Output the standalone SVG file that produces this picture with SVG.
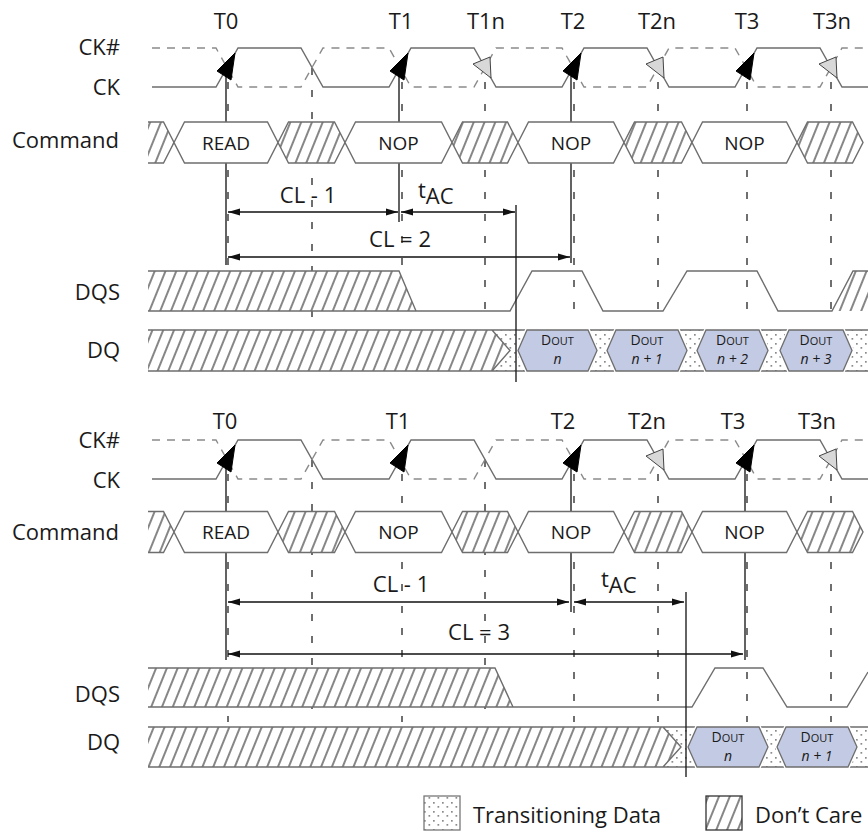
<svg xmlns="http://www.w3.org/2000/svg" width="868" height="832" viewBox="0 0 868 832">
<defs>
<style>
text{font-family:"Open Sans","Noto Sans","DejaVu Sans",sans-serif;fill:#1a1a1a}
.lbl{font-size:22px;text-anchor:end}
.tl{font-size:22px;text-anchor:middle}
.cmd{font-size:19px;text-anchor:middle}
.dim{font-size:22px;text-anchor:middle}
.tac{font-size:22px}
.wave{fill:none;stroke:#6e6e6e;stroke-width:1.4}
.ckn{fill:none;stroke:#8a8a8a;stroke-width:1.4;stroke-dasharray:8 7}
.bus{fill:#fff;stroke:#6e6e6e;stroke-width:1.4}
.dc{fill:url(#hatch);stroke:#6e6e6e;stroke-width:1.4}
.dcf{fill:url(#hatch);stroke:none}
.edge{fill:none;stroke:#6e6e6e;stroke-width:1.4}
.tick{stroke:#333;stroke-width:1.4;stroke-dasharray:7 15;fill:none}
.solid{stroke:#222;stroke-width:1.4;fill:none}
.dimln{stroke:#111;stroke-width:1.4;fill:none}
.up{fill:#000;stroke:#000;stroke-width:1;stroke-linejoin:round}
.dn{fill:#d8d8d8;stroke:#444;stroke-width:1;stroke-linejoin:round}
.halo{fill:none;stroke:#fff;stroke-width:4}
.dout{fill:#c3cae3;stroke:#6e6e6e;stroke-width:1.3}
.dots{fill:url(#dots);stroke:none}
.d1{font-size:14px;text-anchor:middle}
.d2{font-size:11px}
.dn2{font-size:14px;font-style:italic;text-anchor:middle}
.leg{font-size:22px}
</style>
<pattern id="hatch" patternUnits="userSpaceOnUse" width="10" height="10" patternTransform="rotate(22)">
<rect width="10" height="10" fill="#fff"/>
<line x1="5" y1="-1" x2="5" y2="11" stroke="#222" stroke-width="1.1"/>
</pattern>
<pattern id="dots" patternUnits="userSpaceOnUse" width="9" height="9">
<rect width="9" height="9" fill="#fff"/>
<rect x="1" y="1" width="1.7" height="1.7" fill="#8a8a8a"/>
<rect x="5.5" y="5" width="1.7" height="1.7" fill="#8a8a8a"/>
</pattern>
<marker id="ah" viewBox="0 0 12 8" refX="12" refY="4" markerWidth="12" markerHeight="8" markerUnits="userSpaceOnUse" orient="auto-start-reverse">
<path d="M0,0.5 L12,4 L0,7.5 z" fill="#111"/>
</marker>
</defs>
<rect width="868" height="832" fill="#fff"/>

<!-- ================= TOP DIAGRAM ================= -->
<g id="top-labels">
<text class="lbl" x="120" y="55">CK#</text>
<text class="lbl" x="120" y="95">CK</text>
<text class="lbl" x="119" y="148">Command</text>
<text class="lbl" x="120" y="300">DQS</text>
<text class="lbl" x="120" y="358">DQ</text>
<text class="tl" x="226" y="29">T0</text>
<text class="tl" x="401" y="29">T1</text>
<text class="tl" x="486" y="29">T1n</text>
<text class="tl" x="573" y="29">T2</text>
<text class="tl" x="657" y="29">T2n</text>
<text class="tl" x="747" y="29">T3</text>
<text class="tl" x="832" y="29">T3n</text>
</g>

<g id="top-connectors">
<path class="tick" d="M228,82 V320 M312,68 V320 M402,82 V320 M485,82 V320 M574,82 V320 M658,82 V320 M747,82 V320 M831,82 V320"/>
<path class="solid" d="M226,76 V265 M399,76 V222 M571,76 V263"/>
</g>

<g id="top-clock">
<path class="ckn" d="M152,48 H216 L238,87 H301 L323,48 H389 L411,87 H474 L496,48 H562 L584,87 H647 L669,48 H735 L757,87 H820 L842,48 H868"/>
<path class="wave" d="M152,87 H216 L238,48 H301 L323,87 H389 L411,48 H474 L496,87 H562 L584,48 H647 L669,87 H735 L757,48 H820 L842,87 H868"/>
<polygon class="up" points="235,53 217,71 231,80"/>
<polygon class="up" points="408,53 390,71 404,80"/>
<polygon class="up" points="581,53 563,71 577,80"/>
<polygon class="up" points="754,53 736,71 750,80"/>
<polygon class="dn" points="473,64 490,57 491,78"/>
<polygon class="dn" points="646,64 663,57 664,78"/>
<polygon class="dn" points="819,64 836,57 837,78"/>
</g>

<g id="top-command">
<polygon class="dcf" points="148,122 163.5,122 174,142.5 163.5,163 148,163"/>
<path class="edge" d="M148,122 H163.5 L174,142.5 L163.5,163 H148"/>
<polygon class="bus" points="174,142.5 184.5,122 267.5,122 278,142.5 267.5,163 184.5,163"/>
<polygon class="dc" points="278,142.5 288.5,122 334.5,122 345,142.5 334.5,163 288.5,163"/>
<polygon class="bus" points="345,142.5 355.5,122 441.5,122 452,142.5 441.5,163 355.5,163"/>
<polygon class="dc" points="452,142.5 462.5,122 507.5,122 518,142.5 507.5,163 462.5,163"/>
<polygon class="bus" points="518,142.5 528.5,122 613.5,122 624,142.5 613.5,163 528.5,163"/>
<polygon class="dc" points="624,142.5 634.5,122 681.5,122 692,142.5 681.5,163 634.5,163"/>
<polygon class="bus" points="692,142.5 702.5,122 786.5,122 797,142.5 786.5,163 702.5,163"/>
<polygon class="dc" points="797,142.5 807.5,122 852.5,122 863,142.5 852.5,163 807.5,163"/>
<text class="cmd" x="226" y="149.5">READ</text>
<text class="cmd" x="398.5" y="149.5">NOP</text>
<text class="cmd" x="571" y="149.5">NOP</text>
<text class="cmd" x="744.5" y="149.5">NOP</text>
</g>

<g id="top-dqs">
<polygon class="dcf" points="148,271 399,271 416,311 148,311"/>
<path class="edge" d="M148,271 H399 L416,311"/>
<polygon class="dcf" points="832,311 853,271 868,271 868,311"/>
<path class="wave" d="M148,311 H510 L532,271 H582 L603,311 H663 L687,271 H757 L778,311 H832 L853,271 H868"/>
</g>

<g id="top-dq">
<rect class="dots" x="492" y="330" width="376" height="41"/>
<polygon class="dcf" points="148,330 492,330 510,350.5 492,371 148,371"/>
<path class="edge" d="M148,330 H868 M148,371 H868 M492,330 L510,350.5 L492,371"/>
<g id="top-dout-n">
<polygon class="halo" points="518,350.5 527,330 588,330 597,350.5 588,371 527,371"/>
<polygon class="dout" points="518,350.5 527,330 588,330 597,350.5 588,371 527,371"/>
<text class="d1" x="557.5" y="345">D<tspan class="d2">OUT</tspan></text>
<text class="dn2" x="557.5" y="364">n</text>
</g>
<g id="top-dout-n1">
<polygon class="halo" points="607,350.5 616,330 678,330 687,350.5 678,371 616,371"/>
<polygon class="dout" points="607,350.5 616,330 678,330 687,350.5 678,371 616,371"/>
<text class="d1" x="647" y="345">D<tspan class="d2">OUT</tspan></text>
<text class="dn2" x="647" y="364">n + 1</text>
</g>
<g id="top-dout-n2">
<polygon class="halo" points="697,350.5 706,330 759,330 768,350.5 759,371 706,371"/>
<polygon class="dout" points="697,350.5 706,330 759,330 768,350.5 759,371 706,371"/>
<text class="d1" x="732.5" y="345">D<tspan class="d2">OUT</tspan></text>
<text class="dn2" x="732.5" y="364">n + 2</text>
</g>
<g id="top-dout-n3">
<polygon class="halo" points="780,350.5 789,330 843,330 852,350.5 843,371 789,371"/>
<polygon class="dout" points="780,350.5 789,330 843,330 852,350.5 843,371 789,371"/>
<text class="d1" x="816" y="345">D<tspan class="d2">OUT</tspan></text>
<text class="dn2" x="816" y="364">n + 3</text>
</g>
</g>

<g id="top-annotations">
<path class="solid" d="M516,205 V382"/>
<line class="dimln" x1="228" y1="212" x2="398" y2="212" marker-start="url(#ah)" marker-end="url(#ah)"/>
<line class="dimln" x1="401" y1="212" x2="515" y2="212" marker-start="url(#ah)" marker-end="url(#ah)"/>
<line class="dimln" x1="228" y1="257" x2="570" y2="257" marker-start="url(#ah)" marker-end="url(#ah)"/>
<text class="dim" x="308" y="203">CL - 1</text>
<text class="tac" x="418" y="198">t<tspan dy="6">AC</tspan></text>
<text class="dim" x="400" y="247">CL = 2</text>
</g>

<!-- ================= BOTTOM DIAGRAM ================= -->
<g id="bottom-labels">
<text class="lbl" x="120" y="448">CK#</text>
<text class="lbl" x="120" y="488">CK</text>
<text class="lbl" x="119" y="540">Command</text>
<text class="lbl" x="120" y="702">DQS</text>
<text class="lbl" x="120" y="750">DQ</text>
<text class="tl" x="225" y="429">T0</text>
<text class="tl" x="398" y="429">T1</text>
<text class="tl" x="563" y="429">T2</text>
<text class="tl" x="647" y="429">T2n</text>
<text class="tl" x="733" y="429">T3</text>
<text class="tl" x="817" y="429">T3n</text>
</g>

<g id="bottom-connectors">
<path class="tick" d="M228,474 V722 M312,460 V722 M402,474 V722 M485,460 V722 M574,474 V722 M658,474 V722 M747,474 V722 M831,474 V722"/>
<path class="solid" d="M226,468 V660 M571,468 V612 M745,468 V660"/>
</g>

<g id="bottom-clock">
<path class="ckn" d="M152,440 H216 L238,479 H301 L323,440 H389 L411,479 H474 L496,440 H562 L584,479 H647 L669,440 H735 L757,479 H820 L842,440 H868"/>
<path class="wave" d="M152,479 H216 L238,440 H301 L323,479 H389 L411,440 H474 L496,479 H562 L584,440 H647 L669,479 H735 L757,440 H820 L842,479 H868"/>
<polygon class="up" points="235,445 217,463 231,472"/>
<polygon class="up" points="408,445 390,463 404,472"/>
<polygon class="up" points="581,445 563,463 577,472"/>
<polygon class="up" points="754,445 736,463 750,472"/>
<polygon class="dn" points="646,456 663,449 664,470"/>
<polygon class="dn" points="819,456 836,449 837,470"/>
</g>

<g id="bottom-command">
<polygon class="dcf" points="148,511.5 163.5,511.5 174,532 163.5,552.5 148,552.5"/>
<path class="edge" d="M148,511.5 H163.5 L174,532 L163.5,552.5 H148"/>
<polygon class="bus" points="174,532 184.5,511.5 267.5,511.5 278,532 267.5,552.5 184.5,552.5"/>
<polygon class="dc" points="278,532 288.5,511.5 334.5,511.5 345,532 334.5,552.5 288.5,552.5"/>
<polygon class="bus" points="345,532 355.5,511.5 441.5,511.5 452,532 441.5,552.5 355.5,552.5"/>
<polygon class="dc" points="452,532 462.5,511.5 507.5,511.5 518,532 507.5,552.5 462.5,552.5"/>
<polygon class="bus" points="518,532 528.5,511.5 613.5,511.5 624,532 613.5,552.5 528.5,552.5"/>
<polygon class="dc" points="624,532 634.5,511.5 681.5,511.5 692,532 681.5,552.5 634.5,552.5"/>
<polygon class="bus" points="692,532 702.5,511.5 786.5,511.5 797,532 786.5,552.5 702.5,552.5"/>
<polygon class="dc" points="797,532 807.5,511.5 852.5,511.5 863,532 852.5,552.5 807.5,552.5"/>
<text class="cmd" x="226" y="539">READ</text>
<text class="cmd" x="398.5" y="539">NOP</text>
<text class="cmd" x="571" y="539">NOP</text>
<text class="cmd" x="744.5" y="539">NOP</text>
</g>

<g id="bottom-dqs">
<polygon class="dcf" points="148,668 495,668 513,707 148,707"/>
<path class="edge" d="M148,668 H495 L513,707"/>
<path class="wave" d="M148,707 H692 L715,668 H763 L787,707 H847 L868,672"/>
</g>

<g id="bottom-dq">
<rect class="dots" x="663" y="727" width="205" height="40"/>
<polygon class="dcf" points="148,727 663,727 681,747 663,767 148,767"/>
<path class="edge" d="M148,727 H868 M148,767 H868 M663,727 L681,747 L663,767"/>
<g id="bottom-dout-n">
<polygon class="halo" points="688,747 697,727 759,727 768,747 759,767 697,767"/>
<polygon class="dout" points="688,747 697,727 759,727 768,747 759,767 697,767"/>
<text class="d1" x="728" y="742">D<tspan class="d2">OUT</tspan></text>
<text class="dn2" x="728" y="761">n</text>
</g>
<g id="bottom-dout-n1">
<polygon class="halo" points="777,747 786,727 848,727 857,747 848,767 786,767"/>
<polygon class="dout" points="777,747 786,727 848,727 857,747 848,767 786,767"/>
<text class="d1" x="817" y="742">D<tspan class="d2">OUT</tspan></text>
<text class="dn2" x="817" y="761">n + 1</text>
</g>
</g>

<g id="bottom-annotations">
<path class="solid" d="M686,592 V777"/>
<line class="dimln" x1="228" y1="602" x2="569" y2="602" marker-start="url(#ah)" marker-end="url(#ah)"/>
<line class="dimln" x1="574" y1="602" x2="684" y2="602" marker-start="url(#ah)" marker-end="url(#ah)"/>
<line class="dimln" x1="228" y1="654" x2="743" y2="654" marker-start="url(#ah)" marker-end="url(#ah)"/>
<text class="dim" x="401" y="592">CL - 1</text>
<text class="tac" x="601" y="587">t<tspan dy="6">AC</tspan></text>
<text class="dim" x="479" y="640">CL = 3</text>
</g>

<!-- ================= LEGEND ================= -->
<g id="legend-transitioning">
<rect x="424" y="796" width="36" height="34" fill="url(#dots)" stroke="#777" stroke-width="1.3"/>
<text class="leg" x="473" y="823">Transitioning Data</text>
</g>
<g id="legend-dontcare">
<rect x="706" y="796" width="36" height="34" fill="url(#hatch)" stroke="#333" stroke-width="1.3"/>
<text class="leg" x="755" y="823">Don’t Care</text>
</g>
</svg>
